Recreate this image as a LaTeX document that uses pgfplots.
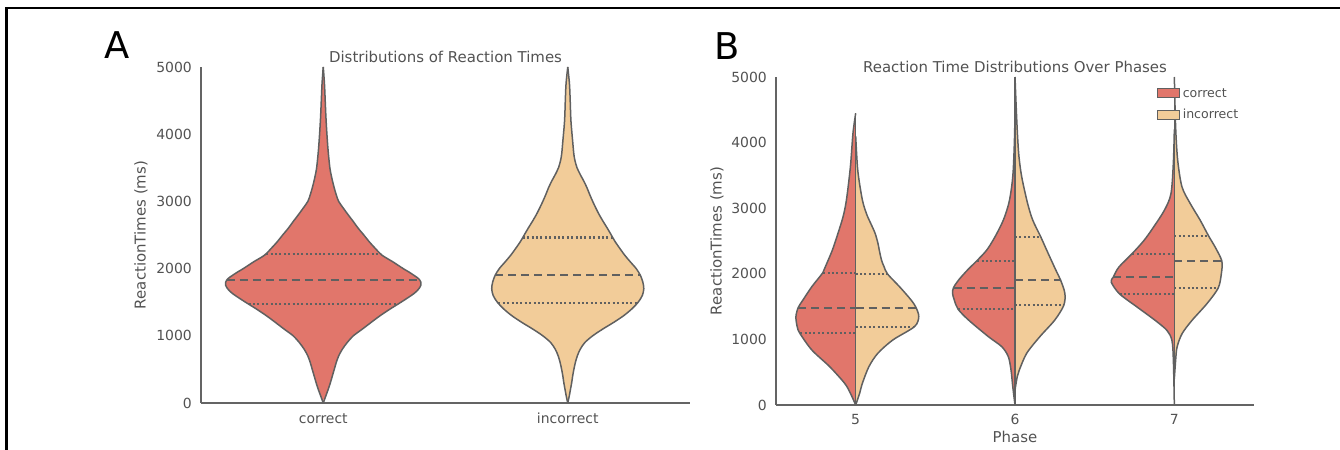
\documentclass[border=0pt]{standalone}
\usepackage{fontspec}
\setmainfont{DejaVu Sans}
\usepackage{pgfplots}
\usepackage{pgfplotstable}
\pgfplotsset{compat=1.18}
\pgfplotsset{legend image code/.code={\draw[#1] (0bp,-4.5bp) rectangle (22bp,4.5bp);}}
\definecolor{cred}{RGB}{225,118,107}
\definecolor{ctan}{RGB}{242,204,153}
\definecolor{outl}{RGB}{96,96,96}
\definecolor{txt}{RGB}{82,82,82}
\definecolor{axl}{RGB}{100,100,100}

% Panel A profiles: y (ms), half width (category units)
\pgfplotstableread{
y w
0 0
100 0.010
200 0.020
300 0.029
400 0.037
500 0.045
600 0.053
700 0.063
800 0.078
900 0.098
1000 0.123
1100 0.160
1200 0.196
1300 0.233
1400 0.274
1500 0.318
1600 0.360
1650 0.378
1700 0.391
1750 0.399
1800 0.399
1850 0.390
1900 0.371
1950 0.350
2000 0.327
2100 0.285
2200 0.240
2300 0.213
2400 0.188
2500 0.166
2600 0.143
2700 0.123
2800 0.102
2900 0.082
3000 0.063
3100 0.053
3200 0.045
3300 0.038
3400 0.032
3500 0.027
3750 0.020
4000 0.015
4250 0.011
4500 0.008
4750 0.005
5000 0
}\vAc
\pgfplotstableread{
y w
0 0
100 0.006
200 0.011
300 0.016
400 0.020
500 0.025
600 0.031
700 0.039
800 0.051
900 0.070
1000 0.102
1100 0.143
1200 0.188
1300 0.229
1400 0.262
1500 0.288
1600 0.305
1700 0.311
1800 0.307
1900 0.297
2000 0.280
2100 0.256
2200 0.233
2300 0.213
2400 0.194
2500 0.178
2600 0.162
2700 0.145
2800 0.129
2900 0.115
3000 0.102
3100 0.090
3200 0.079
3300 0.066
3400 0.051
3500 0.038
3600 0.030
3700 0.025
3900 0.020
4200 0.013
4500 0.010
4750 0.007
5000 0
}\vAi
% Panel B profiles
\pgfplotstableread{
y w
0 0
178 0.033
330 0.069
584 0.163
838 0.275
1092 0.350
1194 0.367
1346 0.375
1484 0.361
1600 0.331
1804 0.275
2017 0.206
2109 0.190
2363 0.146
2617 0.111
2871 0.079
3125 0.058
3633 0.033
4141 0.017
4446 0
}\vBfc
\pgfplotstableread{
y w
0 0
178 0.025
330 0.042
584 0.083
788 0.139
991 0.233
1194 0.369
1346 0.396
1484 0.379
1600 0.348
1804 0.275
1997 0.200
2109 0.178
2210 0.162
2363 0.148
2464 0.140
2617 0.122
2750 0.098
2871 0.075
3000 0.056
3125 0.042
3380 0.024
3633 0.011
4100 0
}\vBfi
\pgfplotstableread{
y w
0 0
279 0.014
533 0.025
737 0.042
889 0.083
1042 0.167
1296 0.292
1463 0.358
1600 0.381
1702 0.392
1788 0.386
1905 0.354
2058 0.298
2200 0.239
2363 0.177
2566 0.125
2820 0.073
3074 0.039
3328 0.021
3582 0.011
4000 0.004
4400 0
}\vBsc
\pgfplotstableread{
y w
229 0
432 0.014
533 0.027
787 0.073
1042 0.156
1296 0.250
1519 0.306
1702 0.313
1905 0.286
2058 0.256
2312 0.208
2566 0.161
2820 0.111
3074 0.079
3480 0.042
3836 0.023
4344 0.011
5000 0
}\vBsi
\pgfplotstableread{
y w
0 0
677 0.006
983 0.015
1136 0.046
1288 0.119
1492 0.233
1696 0.345
1874 0.396
1950 0.383
2103 0.348
2307 0.265
2510 0.190
2714 0.130
2969 0.0625
3223 0.021
3700 0.006
4200 0
}\vBvc
\pgfplotstableread{
y w
400 0
677 0.008
881 0.017
1085 0.048
1288 0.110
1543 0.204
1782 0.275
2001 0.295
2195 0.298
2408 0.256
2577 0.215
2816 0.1625
3070 0.100
3325 0.048
3733 0.021
4243 0.008
5000 0
}\vBvi

\pgfplotsset{
  vio/.style={scale only axis, anchor=south west, clip=false,
    axis lines*=left, axis line style={-, draw=axl, line width=1.3bp},
    major tick length=0pt, tick style={draw=none},
    ymin=0, ymax=5000, ytick={0,1000,2000,3000,4000,5000},
    /pgf/number format/assume math mode=true,
    /pgf/number format/1000 sep={},
    yticklabel style={font=\fontsize{14}{16}\selectfont, text=txt, inner sep=0pt, xshift=-9bp},
    xticklabel style={font=\fontsize{14}{16}\selectfont, text=txt, inner sep=0pt, anchor=base, yshift=-20bp},
    every axis title shift=0pt,
    title style={font=\fontsize{15}{17}\selectfont, text=txt, at={(axis description cs:0.5,1)}, anchor=base, yshift=4.5bp},
    ylabel style={font=\fontsize{15}{17}\selectfont, text=txt, anchor=center},
    xlabel style={font=\fontsize{15}{17}\selectfont, text=txt},
  },
  half/.style={draw=none, smooth, tension=0.5, forget plot},
  olin/.style={draw=outl, line width=1.5bp, smooth, tension=0.5, forget plot},
  cline/.style={draw=outl, line width=1.5bp, forget plot},
  med/.style={outl, line width=2bp, dash pattern=on 8bp off 5bp, forget plot},
  qrt/.style={outl, line width=2.2bp, dash pattern=on 2bp off 2.4bp, forget plot},
}

\begin{document}
\begin{tikzpicture}
\useasboundingbox (0,0) rectangle (1340bp,450bp);
\draw[line width=2.8bp, line cap=rect] (6.2bp,0bp) -- (6.2bp,442bp) -- (1340bp,442bp);
\node[anchor=base west, inner sep=0pt, font=\fontsize{37}{40}\selectfont] at (104bp,391bp) {A};
\node[anchor=base west, inner sep=0pt, font=\fontsize{37}{40}\selectfont] at (714bp,390bp) {B};

% ---------- Panel A ----------
\begin{axis}[vio, at={(201bp,47bp)}, width=489bp, height=336bp,
  xmin=-0.5, xmax=1.5, xtick={0,1}, xticklabels={correct,incorrect},
  title={Distributions of Reaction Times},
  ylabel={ReactionTimes (ms)},
  ylabel style={at={(axis description cs:-0.1227,0.5)}},
]
% correct
\addplot[half, fill=cred] table[x expr=0-\thisrow{w}, y=y]{\vAc};
\addplot[half, fill=cred] table[x expr=0+\thisrow{w}, y=y]{\vAc};
\addplot[cred, line width=1.2bp, forget plot] coordinates {(0,60) (0,4940)};
\addplot[olin] table[x expr=0-\thisrow{w}, y=y]{\vAc};
\addplot[olin] table[x expr=0+\thisrow{w}, y=y]{\vAc};
% incorrect
\addplot[half, fill=ctan] table[x expr=1-\thisrow{w}, y=y]{\vAi};
\addplot[half, fill=ctan] table[x expr=1+\thisrow{w}, y=y]{\vAi};
\addplot[ctan, line width=1.2bp, forget plot] coordinates {(1,60) (1,4940)};
\addplot[olin] table[x expr=1-\thisrow{w}, y=y]{\vAi};
\addplot[olin] table[x expr=1+\thisrow{w}, y=y]{\vAi};
% quartiles
\addplot[med] coordinates {(-0.395,1825) (0.395,1825)};
\addplot[qrt] coordinates {(-0.233,2222) (0.233,2222)};
\addplot[qrt] coordinates {(-0.305,1468) (0.305,1468)};
\addplot[med] coordinates {(0.703,1898) (1.297,1898)};
\addplot[qrt] coordinates {(0.816,2463) (1.184,2463)};
\addplot[qrt] coordinates {(0.716,1486) (1.284,1486)};
\end{axis}

% ---------- Panel B ----------
\begin{axis}[vio, at={(776bp,45bp)}, width=478bp, height=328bp,
  xmin=4.5, xmax=7.5, xtick={5,6,7},
  title={Reaction Time Distributions Over Phases},
  ylabel={ReactionTimes (ms)},
  ylabel style={at={(axis description cs:-0.1234,0.5)}},
  xlabel={Phase},
  xlabel style={at={(axis description cs:0.5,0)}, anchor=base, yshift=-38bp},
  legend style={draw=none, fill=none, at={(axis description cs:0.791,0.98)}, anchor=north west,
    font=\fontsize{12.6}{14}\selectfont, text=txt, row sep=5.5bp, nodes={inner sep=2.5bp},
    /tikz/every even column/.append style={column sep=3bp}},
  legend cell align=left,
]
% phase 5
\addplot[half, fill=cred] table[x expr=5-\thisrow{w}, y=y]{\vBfc};
\addplot[half, fill=ctan] table[x expr=5+\thisrow{w}, y=y]{\vBfi};
\addplot[olin] table[x expr=5-\thisrow{w}, y=y]{\vBfc};
\addplot[olin] table[x expr=5+\thisrow{w}, y=y]{\vBfi};
\addplot[cline] coordinates {(5,0) (5,4446)};
% phase 6
\addplot[half, fill=cred] table[x expr=6-\thisrow{w}, y=y]{\vBsc};
\addplot[half, fill=ctan] table[x expr=6+\thisrow{w}, y=y]{\vBsi};
\addplot[olin] table[x expr=6-\thisrow{w}, y=y]{\vBsc};
\addplot[olin] table[x expr=6+\thisrow{w}, y=y]{\vBsi};
\addplot[cline] coordinates {(6,0) (6,5000)};
% phase 7
\addplot[half, fill=cred] table[x expr=7-\thisrow{w}, y=y]{\vBvc};
\addplot[half, fill=ctan] table[x expr=7+\thisrow{w}, y=y]{\vBvi};
\addplot[olin] table[x expr=7-\thisrow{w}, y=y]{\vBvc};
\addplot[olin] table[x expr=7+\thisrow{w}, y=y]{\vBvi};
\addplot[cline] coordinates {(7,0) (7,5000)};
% quartiles phase 5
\addplot[med] coordinates {(4.639,1484) (5,1484)};
\addplot[qrt] coordinates {(4.796,2017) (5,2017)};
\addplot[qrt] coordinates {(4.652,1092) (5,1092)};
\addplot[med] coordinates {(5,1484) (5.379,1484)};
\addplot[qrt] coordinates {(5,1997) (5.198,1997)};
\addplot[qrt] coordinates {(5,1194) (5.365,1194)};
% quartiles phase 6
\addplot[med] coordinates {(5.614,1788) (6,1788)};
\addplot[qrt] coordinates {(5.763,2200) (6,2200)};
\addplot[qrt] coordinates {(5.644,1463) (6,1463)};
\addplot[med] coordinates {(6,1905) (6.284,1905)};
\addplot[qrt] coordinates {(6,2566) (6.160,2566)};
\addplot[qrt] coordinates {(6,1519) (6.304,1519)};
% quartiles phase 7
\addplot[med] coordinates {(6.617,1950) (7,1950)};
\addplot[qrt] coordinates {(6.737,2307) (7,2307)};
\addplot[qrt] coordinates {(6.657,1696) (7,1696)};
\addplot[med] coordinates {(7,2195) (7.297,2195)};
\addplot[qrt] coordinates {(7,2577) (7.213,2577)};
\addplot[qrt] coordinates {(7,1782) (7.273,1782)};
\addlegendimage{fill=cred, draw=outl, line width=1bp}
\addlegendentry{correct}
\addlegendimage{fill=ctan, draw=outl, line width=1bp}
\addlegendentry{incorrect}
\end{axis}
\end{tikzpicture}
\end{document}
